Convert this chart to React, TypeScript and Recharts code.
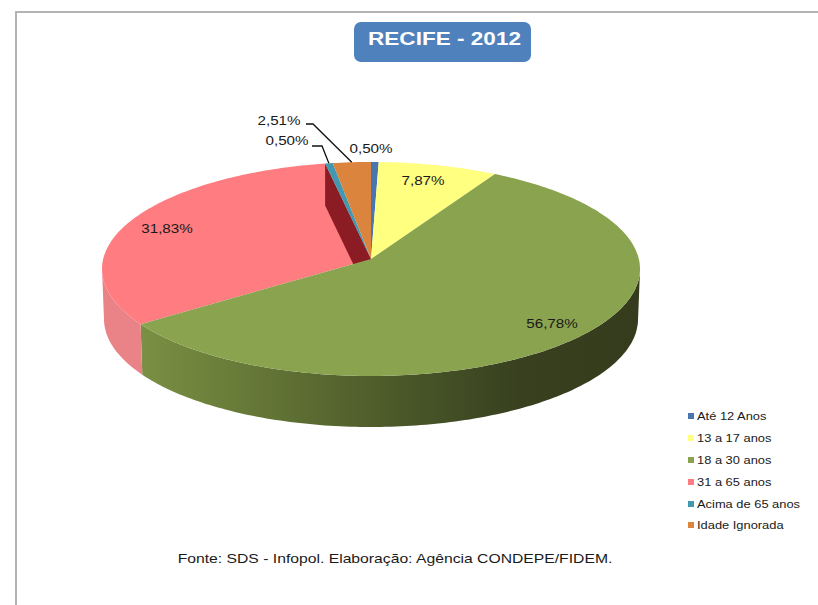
import { Legend, Pie, PieChart } from 'recharts';

const categories = ['Até 12 Anos', '13 a 17 anos', '18 a 30 anos', '31 a 65 anos', 'Acima de 65 anos', 'Idade Ignorada'];
const shares = [0.5, 7.87, 56.78, 31.83, 0.5, 2.51];
const sliceColors = ['#4a76b0', '#ffff80', '#8aa34f', '#ff7c80', '#4198af', '#db843d'];

const rows = categories.map((name, i) => ({ name, value: shares[i], fill: sliceColors[i] }));

// the original is a perspective 3D pie: the apex sits above the rim ellipse's centre
const W = 818;
const H = 605;
const CX = 371;
const CY = 269;
const RX = 269;
const RY = 107;
const APEX_DY = -10;
const LOWER = { cx: 371, cy: 319, rx: 267, ry: 108 };
const CUT_DEPTH = 42;
const STRETCH = 1.17;
const TEXT = '#1a1a1a';
const FONT = '"Liberation Sans", Arial, sans-serif';

const labelSpots = [
  { x: 371, y: 153 },
  { x: 423, y: 185 },
  { x: 552, y: 328 },
  { x: 167, y: 233 },
  { x: 287, y: 145 },
  { x: 279, y: 125 },
];
const leaderElbows: number[][][] = [
  [],
  [],
  [],
  [],
  [[312, 146], [322, 146]],
  [[306, 124], [313, 124]],
];

// degrees clockwise from the top -> unit coords on the rim ellipse, seen from the apex
function rimUnit(fromTop: number) {
  const a = (fromTop * Math.PI) / 180;
  const dx = Math.sin(a);
  const dy = -Math.cos(a);
  const py = APEX_DY / RY;
  const pd = py * dy;
  const t = -pd + Math.sqrt(pd * pd + 1 - py * py);
  return { u: t * dx, v: py + t * dy };
}

const rimAngles = (from: number, to: number) => {
  const out: number[] = [];
  for (let a = from; a < to; a += 1) out.push(a);
  out.push(to);
  return out;
};

const pathOf = (pts: number[][]) => `M${pts.map((p) => `${p[0].toFixed(1)},${p[1].toFixed(1)}`).join('L')}Z`;

function topFace(props: any) {
  const from = 90 - props.startAngle;
  const to = 90 - props.endAngle;
  const pts = rimAngles(from, to).map((a) => {
    const { u, v } = rimUnit(a);
    return [props.cx + u * props.outerRadius, CY + v * RY];
  });
  return pathOf([[props.cx, CY + APEX_DY], ...pts]);
}

function outerWall(props: any) {
  const units = rimAngles(90 - props.startAngle, 90 - props.endAngle)
    .map(rimUnit)
    .filter((p) => p.v >= 0);
  if (units.length < 2) return null;
  const upper = units.map((p) => [CX + p.u * RX, CY + p.v * RY]);
  const lower = units.map((p) => [LOWER.cx + p.u * LOWER.rx, LOWER.cy + p.v * LOWER.ry]);
  return pathOf([...upper, ...lower.reverse()]);
}

function UnderLayer(props: any) {
  const isGreen = props.name === '18 a 30 anos';
  const isPink = props.name === '31 a 65 anos';
  const wall = outerWall(props);
  let cut = null;
  if (isPink) {
    const { u, v } = rimUnit(90 - props.endAngle);
    const rx = CX + u * RX;
    const ry = CY + v * RY;
    const ax = CX;
    const ay = CY + APEX_DY;
    cut = pathOf([[rx, ry], [rx, ry + CUT_DEPTH], [ax, ay + CUT_DEPTH], [ax, ay]]);
  }
  return (
    <g>
      {wall && <path d={wall} fill={isGreen ? 'url(#greenWall)' : '#ea8387'} />}
      {isPink && <path d={topFace(props)} fill={props.fill} />}
      {cut && <path d={cut} fill="#8c1c24" />}
    </g>
  );
}

function TopLayer(props: any) {
  if (props.name === '31 a 65 anos') return <g />;
  return <path d={topFace(props)} fill={props.fill} />;
}

function SliceLabel(props: any) {
  const { index, midAngle, value } = props;
  const spot = labelSpots[index];
  const elbows = leaderElbows[index];
  const { u, v } = rimUnit(90 - midAngle);
  const end = [CX + u * RX, CY + v * RY];
  return (
    <g>
      {elbows.length > 0 && (
        <polyline
          points={[...elbows, end].map((p) => p.join(',')).join(' ')}
          fill="none"
          stroke="#111"
          strokeWidth={1.3}
        />
      )}
      <text
        transform={`translate(${spot.x},${spot.y}) scale(${STRETCH},1)`}
        textAnchor="middle"
        fontFamily={FONT}
        fontSize={13}
        fill={TEXT}
      >
        {`${value.toFixed(2).replace('.', ',')}%`}
      </text>
    </g>
  );
}

function LegendList({ payload }: any) {
  const items = (payload ?? []).filter((p: any) => p.type !== 'none');
  return (
    <div style={{ fontFamily: FONT, fontSize: 11, color: TEXT }}>
      {items.map((p: any) => (
        <div key={p.value} style={{ height: 21.9, display: 'flex', alignItems: 'center' }}>
          <span style={{ width: 6, height: 6, background: p.color, marginRight: 3, flex: 'none' }} />
          <span style={{ whiteSpace: 'nowrap', transform: `scaleX(${STRETCH})`, transformOrigin: 'left center' }}>
            {p.value}
          </span>
        </div>
      ))}
    </div>
  );
}

export default function App() {
  return (
    <div style={{ position: 'absolute', left: 0, top: 0, width: W, height: H, background: '#fff', overflow: 'hidden' }}>
      <div style={{ position: 'absolute', left: 15, top: 11, right: 0, height: 2, background: '#b4b4b4' }} />
      <div style={{ position: 'absolute', left: 15, top: 11, bottom: 0, width: 2, background: '#b4b4b4' }} />
      <PieChart width={W} height={H} margin={{ top: 0, right: 0, bottom: 0, left: 0 }}>
        <defs>
          <linearGradient id="greenWall" gradientUnits="userSpaceOnUse" x1={140} y1={0} x2={640} y2={0}>
            <stop offset="0" stopColor="#7a9042" />
            <stop offset="0.5" stopColor="#4c5a2a" />
            <stop offset="0.76" stopColor="#38401f" />
            <stop offset="1" stopColor="#343c1d" />
          </linearGradient>
        </defs>
        <rect x={354} y={22} width={177} height={40} rx={7} fill="#4f81bd" />
        <text
          transform="translate(444.5,45) scale(1.22,1)"
          textAnchor="middle"
          fontFamily={FONT}
          fontWeight="bold"
          fontSize={18.5}
          fill="#fff"
        >
          RECIFE - 2012
        </text>
        <Pie
          data={rows}
          dataKey="value"
          nameKey="name"
          cx={CX}
          cy={CY}
          outerRadius={RX}
          startAngle={90}
          endAngle={-270}
          stroke="none"
          legendType="none"
          shape={UnderLayer}
          isAnimationActive={false}
        />
        <Pie
          data={rows}
          dataKey="value"
          nameKey="name"
          cx={CX}
          cy={CY}
          outerRadius={RX}
          startAngle={90}
          endAngle={-270}
          stroke="none"
          shape={TopLayer}
          label={SliceLabel}
          labelLine={false}
          isAnimationActive={false}
        />
        <Legend
          content={<LegendList />}
          itemSorter={null}
          layout="vertical"
          wrapperStyle={{ left: 688, top: 405, width: 130, bottom: 'auto', right: 'auto' }}
        />
        <text
          transform="translate(395,563) scale(1.21,1)"
          textAnchor="middle"
          fontFamily={FONT}
          fontSize={13}
          fill={TEXT}
        >
          Fonte:  SDS - Infopol. Elaboração: Agência  CONDEPE/FIDEM.
        </text>
      </PieChart>
    </div>
  );
}
